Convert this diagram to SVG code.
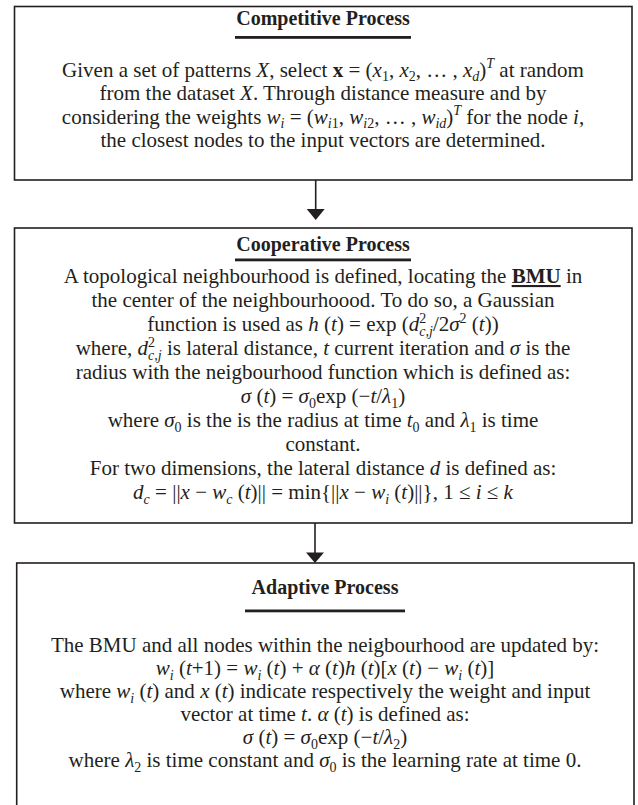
<svg xmlns="http://www.w3.org/2000/svg" width="638" height="805" viewBox="0 0 638 805">
<defs>
<style>
.box{fill:#fff;stroke:#231f20;stroke-width:1.6}
.t{font-family:"Liberation Serif","Times New Roman",serif;font-size:21px;fill:#231f20;text-anchor:middle}
.h{font-weight:bold;font-size:20px}
.i{font-style:italic}
.b{font-weight:bold}
.s{font-size:14px}
.ul{fill:#231f20}
.con{stroke:#231f20;stroke-width:1.6;fill:none}
.head{fill:#231f20}
</style>
</defs>
<rect width="638" height="805" fill="#fff"/>
<g id="competitive">
<rect class="box" x="14.5" y="6.5" width="617.5" height="173.5"/>
<text class="t h" x="323" y="25">Competitive Process</text>
<rect class="ul" x="235" y="36" width="176" height="2.8"/>
<text class="t" x="323" y="76.5">Given a set of patterns <tspan class="i">X</tspan>, select <tspan class="b">x</tspan> = (<tspan class="i">x</tspan><tspan class="s" dy="4.5">1</tspan><tspan dy="-4.5">, </tspan><tspan class="i">x</tspan><tspan class="s" dy="4.5">2</tspan><tspan dy="-4.5">, … , </tspan><tspan class="i">x</tspan><tspan class="s i" dy="4.5">d</tspan><tspan dy="-4.5">)</tspan><tspan class="s i" dy="-8.5">T</tspan><tspan dy="8.5"> at random</tspan></text>
<text class="t" x="323" y="100">from the dataset <tspan class="i">X</tspan>. Through distance measure and by</text>
<text class="t" x="323" y="123.5">considering the weights <tspan class="i">w</tspan><tspan class="s i" dy="4.5">i</tspan><tspan dy="-4.5"> = (</tspan><tspan class="i">w</tspan><tspan class="s" dy="4.5"><tspan class="i">i</tspan>1</tspan><tspan dy="-4.5">, </tspan><tspan class="i">w</tspan><tspan class="s" dy="4.5"><tspan class="i">i</tspan>2</tspan><tspan dy="-4.5">, … , </tspan><tspan class="i">w</tspan><tspan class="s i" dy="4.5">id</tspan><tspan dy="-4.5">)</tspan><tspan class="s i" dy="-8.5">T</tspan><tspan dy="8.5"> for the node </tspan><tspan class="i">i</tspan>,</text>
<text class="t" x="323" y="147">the closest nodes to the input vectors are determined.</text>
</g>
<g id="cooperative">
<rect class="box" x="14.5" y="228" width="617.5" height="295"/>
<text class="t h" x="323" y="251">Cooperative Process</text>
<rect class="ul" x="235" y="258.5" width="176" height="2.8"/>
<text class="t" x="323" y="283">A topological neighbourhood is defined, locating the <tspan class="b" text-decoration="underline">BMU</tspan> in</text>
<text class="t" x="323" y="307">the center of the neighbourhoood. To do so, a Gaussian</text>
<text class="t" x="323" y="331">function is used as <tspan class="i">h</tspan> (<tspan class="i">t</tspan>) = exp (<tspan class="i">d</tspan><tspan class="s" dy="-8.5">2</tspan><tspan class="s i" dx="-7" dy="13">c,j</tspan><tspan dy="-4.5">/2</tspan><tspan class="i">σ</tspan><tspan class="s" dy="-8.5">2</tspan><tspan dy="8.5"> (</tspan><tspan class="i">t</tspan>))</text>
<text class="t" x="323" y="355">where, <tspan class="i">d</tspan><tspan class="s" dy="-8.5">2</tspan><tspan class="s i" dx="-7" dy="13">c,j</tspan><tspan dy="-4.5"> is lateral distance, </tspan><tspan class="i">t</tspan> current iteration and <tspan class="i">σ</tspan> is the</text>
<text class="t" x="323" y="379">radius with the neigbourhood function which is defined as:</text>
<text class="t" x="323" y="403"><tspan class="i">σ</tspan> (<tspan class="i">t</tspan>) = <tspan class="i">σ</tspan><tspan class="s" dy="4.5">0</tspan><tspan dy="-4.5">exp (−</tspan><tspan class="i">t</tspan>/<tspan class="i">λ</tspan><tspan class="s" dy="4.5">1</tspan><tspan dy="-4.5">)</tspan></text>
<text class="t" x="323" y="427">where <tspan class="i">σ</tspan><tspan class="s" dy="4.5">0</tspan><tspan dy="-4.5"> is the is the radius at time </tspan><tspan class="i">t</tspan><tspan class="s" dy="4.5">0</tspan><tspan dy="-4.5"> and </tspan><tspan class="i">λ</tspan><tspan class="s" dy="4.5">1</tspan><tspan dy="-4.5"> is time</tspan></text>
<text class="t" x="323" y="451">constant.</text>
<text class="t" x="323" y="475">For two dimensions, the lateral distance <tspan class="i">d</tspan> is defined as:</text>
<text class="t" x="323" y="499"><tspan class="i">d</tspan><tspan class="s i" dy="4.5">c</tspan><tspan dy="-4.5"> = ||</tspan><tspan class="i">x</tspan> − <tspan class="i">w</tspan><tspan class="s i" dy="4.5">c</tspan><tspan dy="-4.5"> (</tspan><tspan class="i">t</tspan>)|| = min{||<tspan class="i">x</tspan> − <tspan class="i">w</tspan><tspan class="s i" dy="4.5">i</tspan><tspan dy="-4.5"> (</tspan><tspan class="i">t</tspan>)||}, 1 ≤ <tspan class="i">i</tspan> ≤ <tspan class="i">k</tspan></text>
</g>
<g id="adaptive">
<rect class="box" x="16.7" y="563" width="617.3" height="250"/>
<text class="t h" x="325" y="594">Adaptive Process</text>
<rect class="ul" x="245" y="609.5" width="160" height="2.8"/>
<text class="t" x="325" y="652">The BMU and all nodes within the neigbourhood are updated by:</text>
<text class="t" x="325" y="675"><tspan class="i">w</tspan><tspan class="s i" dy="4.5">i</tspan><tspan dy="-4.5"> (</tspan><tspan class="i">t</tspan>+1) = <tspan class="i">w</tspan><tspan class="s i" dy="4.5">i</tspan><tspan dy="-4.5"> (</tspan><tspan class="i">t</tspan>) + <tspan class="i">α</tspan> (<tspan class="i">t</tspan>)<tspan class="i">h</tspan> (<tspan class="i">t</tspan>)[<tspan class="i">x</tspan> (<tspan class="i">t</tspan>) − <tspan class="i">w</tspan><tspan class="s i" dy="4.5">i</tspan><tspan dy="-4.5"> (</tspan><tspan class="i">t</tspan>)]</text>
<text class="t" x="325" y="698">where <tspan class="i">w</tspan><tspan class="s i" dy="4.5">i</tspan><tspan dy="-4.5"> (</tspan><tspan class="i">t</tspan>) and <tspan class="i">x</tspan> (<tspan class="i">t</tspan>) indicate respectively the weight and input</text>
<text class="t" x="325" y="721">vector at time <tspan class="i">t</tspan>. <tspan class="i">α</tspan> (<tspan class="i">t</tspan>) is defined as:</text>
<text class="t" x="325" y="744"><tspan class="i">σ</tspan> (<tspan class="i">t</tspan>) = <tspan class="i">σ</tspan><tspan class="s" dy="4.5">0</tspan><tspan dy="-4.5">exp (−</tspan><tspan class="i">t</tspan>/<tspan class="i">λ</tspan><tspan class="s" dy="4.5">2</tspan><tspan dy="-4.5">)</tspan></text>
<text class="t" x="325" y="767">where <tspan class="i">λ</tspan><tspan class="s" dy="4.5">2</tspan><tspan dy="-4.5"> is time constant and </tspan><tspan class="i">σ</tspan><tspan class="s" dy="4.5">0</tspan><tspan dy="-4.5"> is the learning rate at time 0.</tspan></text>
</g>
<g id="connectors">
<line class="con" x1="315.7" y1="180" x2="315.7" y2="210"/>
<polygon class="head" points="306.7,209 324.7,209 315.7,220"/>
<line class="con" x1="315" y1="523" x2="315" y2="553"/>
<polygon class="head" points="306,552.5 324,552.5 315,563"/>
</g>
</svg>
